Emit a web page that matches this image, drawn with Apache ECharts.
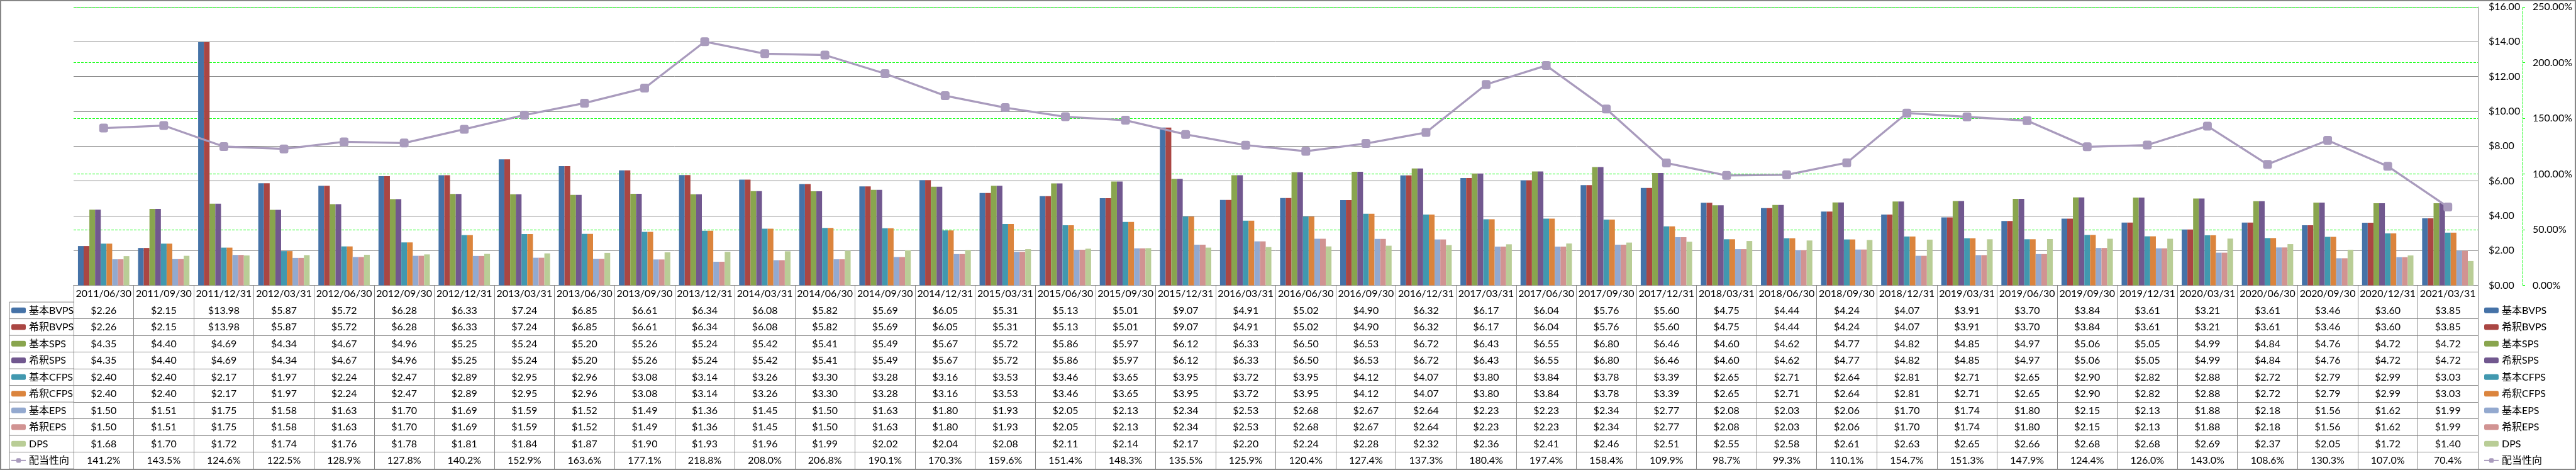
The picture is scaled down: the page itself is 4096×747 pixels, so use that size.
<!DOCTYPE html>
<html>
<head>
<meta charset="utf-8">
<script src="https://cdn.jsdelivr.net/npm/echarts@6/dist/echarts.min.js"></script>
<style>
html,body{margin:0;padding:0;background:#fff;}
#c{width:4096px;height:747px;}
</style>
</head>
<body>
<div id="c"></div>
<script>
// ---------- data ----------
const categories = ['2011/06/30','2011/09/30','2011/12/31','2012/03/31','2012/06/30','2012/09/30','2012/12/31','2013/03/31','2013/06/30','2013/09/30','2013/12/31','2014/03/31','2014/06/30','2014/09/30','2014/12/31','2015/03/31','2015/06/30','2015/09/30','2015/12/31','2016/03/31','2016/06/30','2016/09/30','2016/12/31','2017/03/31','2017/06/30','2017/09/30','2017/12/31','2018/03/31','2018/06/30','2018/09/30','2018/12/31','2019/03/31','2019/06/30','2019/09/30','2019/12/31','2020/03/31','2020/06/30','2020/09/30','2020/12/31','2021/03/31'];

const bvpsBasic   = [2.26,2.15,13.98,5.87,5.72,6.28,6.33,7.24,6.85,6.61,6.34,6.08,5.82,5.69,6.05,5.31,5.13,5.01,9.07,4.91,5.02,4.90,6.32,6.17,6.04,5.76,5.60,4.75,4.44,4.24,4.07,3.91,3.70,3.84,3.61,3.21,3.61,3.46,3.60,3.85];
const bvpsDiluted = [2.26,2.15,13.98,5.87,5.72,6.28,6.33,7.24,6.85,6.61,6.34,6.08,5.82,5.69,6.05,5.31,5.13,5.01,9.07,4.91,5.02,4.90,6.32,6.17,6.04,5.76,5.60,4.75,4.44,4.24,4.07,3.91,3.70,3.84,3.61,3.21,3.61,3.46,3.60,3.85];
const spsBasic    = [4.35,4.40,4.69,4.34,4.67,4.96,5.25,5.24,5.20,5.26,5.24,5.42,5.41,5.49,5.67,5.72,5.86,5.97,6.12,6.33,6.50,6.53,6.72,6.43,6.55,6.80,6.46,4.60,4.62,4.77,4.82,4.85,4.97,5.06,5.05,4.99,4.84,4.76,4.72,4.72];
const spsDiluted  = [4.35,4.40,4.69,4.34,4.67,4.96,5.25,5.24,5.20,5.26,5.24,5.42,5.41,5.49,5.67,5.72,5.86,5.97,6.12,6.33,6.50,6.53,6.72,6.43,6.55,6.80,6.46,4.60,4.62,4.77,4.82,4.85,4.97,5.06,5.05,4.99,4.84,4.76,4.72,4.72];
const cfpsBasic   = [2.40,2.40,2.17,1.97,2.24,2.47,2.89,2.95,2.96,3.08,3.14,3.26,3.30,3.28,3.16,3.53,3.46,3.65,3.95,3.72,3.95,4.12,4.07,3.80,3.84,3.78,3.39,2.65,2.71,2.64,2.81,2.71,2.65,2.90,2.82,2.88,2.72,2.79,2.99,3.03];
const cfpsDiluted = [2.40,2.40,2.17,1.97,2.24,2.47,2.89,2.95,2.96,3.08,3.14,3.26,3.30,3.28,3.16,3.53,3.46,3.65,3.95,3.72,3.95,4.12,4.07,3.80,3.84,3.78,3.39,2.65,2.71,2.64,2.81,2.71,2.65,2.90,2.82,2.88,2.72,2.79,2.99,3.03];
const epsBasic    = [1.50,1.51,1.75,1.58,1.63,1.70,1.69,1.59,1.52,1.49,1.36,1.45,1.50,1.63,1.80,1.93,2.05,2.13,2.34,2.53,2.68,2.67,2.64,2.23,2.23,2.34,2.77,2.08,2.03,2.06,1.70,1.74,1.80,2.15,2.13,1.88,2.18,1.56,1.62,1.99];
const epsDiluted  = [1.50,1.51,1.75,1.58,1.63,1.70,1.69,1.59,1.52,1.49,1.36,1.45,1.50,1.63,1.80,1.93,2.05,2.13,2.34,2.53,2.68,2.67,2.64,2.23,2.23,2.34,2.77,2.08,2.03,2.06,1.70,1.74,1.80,2.15,2.13,1.88,2.18,1.56,1.62,1.99];
const dps         = [1.68,1.70,1.72,1.74,1.76,1.78,1.81,1.84,1.87,1.90,1.93,1.96,1.99,2.02,2.04,2.08,2.11,2.14,2.17,2.20,2.24,2.28,2.32,2.36,2.41,2.46,2.51,2.55,2.58,2.61,2.63,2.65,2.66,2.68,2.68,2.69,2.37,2.05,1.72,1.40];
const payoutRatio = [141.2,143.5,124.6,122.5,128.9,127.8,140.2,152.9,163.6,177.1,218.8,208.0,206.8,190.1,170.3,159.6,151.4,148.3,135.5,125.9,120.4,127.4,137.3,180.4,197.4,158.4,109.9,98.7,99.3,110.1,154.7,151.3,147.9,124.4,126.0,143.0,108.6,130.3,107.0,70.4];

const barNames = ['基本BVPS','希釈BVPS','基本SPS','希釈SPS','基本CFPS','希釈CFPS','基本EPS','希釈EPS','DPS'];
const lineName = '配当性向';
const dollarTicks = {min:0, max:16, interval:2};
const pctTicks = {min:0, max:250, interval:50};

// ---------- styling / layout ----------
const barSeriesData = [bvpsBasic,bvpsDiluted,spsBasic,spsDiluted,cfpsBasic,cfpsDiluted,epsBasic,epsDiluted,dps];
const barColors = ['#4572A7','#AA4643','#89A54E','#71588F','#4198AF','#DB843D','#93A9CF','#D19392','#B9CD96'];
const lineColor = '#A99BBD';
const FONT = "Lato, 'Noto Sans CJK JP', sans-serif";
const FS = 16;
const GRAY = '#868686';
const GRID = {left:117, right:156, top:11, bottom:293.4};
const H = 747;
const ROW = 26.5;
const TABLE_TOP = H - GRID.bottom;
const NROWS = 11; // header + 10 data rows

const fmtDollar = v => '$' + v.toFixed(2);
const fmtPct1 = v => v.toFixed(1) + '%';

const tableRows = barSeriesData.map(arr => (i => fmtDollar(arr[i])))
  .concat([i => fmtPct1(payoutRatio[i])]);

const xAxes = [];
xAxes.push({
  type:'category', data:categories, gridIndex:0, position:'bottom', offset:0,
  axisLine:{show:true, lineStyle:{color:GRAY, width:1}},
  axisTick:{show:true, interval:0, length:ROW*NROWS, lineStyle:{color:GRAY, width:1}},
  axisLabel:{interval:0, margin:0, lineHeight:ROW, fontSize:FS, fontFamily:FONT, color:'#000'},
  splitLine:{show:false}
});
tableRows.forEach((fmt, k) => {
  xAxes.push({
    type:'category', data:categories, gridIndex:0, position:'bottom', offset:ROW*(k+1),
    axisLine:{show:true, lineStyle:{color:GRAY, width:1}},
    axisTick:{show:false},
    axisLabel:{interval:0, margin:0, lineHeight:ROW, fontSize:FS, fontFamily:FONT, color:'#000',
      formatter:(v, idx) => fmt(idx)},
    splitLine:{show:false}
  });
});
xAxes.push({
  type:'category', data:categories, gridIndex:0, position:'bottom', offset:ROW*NROWS,
  axisLine:{show:true, lineStyle:{color:GRAY, width:1}},
  axisTick:{show:false}, axisLabel:{show:false}, splitLine:{show:false}
});

const series = barSeriesData.map((arr, i) => ({
  name: barNames[i], type:'bar', xAxisIndex:0, yAxisIndex:0, data:arr,
  barGap:'0%', barCategoryGap:'14.5%',
  itemStyle:{color:barColors[i]}
}));
series.push({
  name: lineName, type:'line', xAxisIndex:0, yAxisIndex:1, data:payoutRatio,
  symbol:'roundRect', symbolSize:14, z:5,
  lineStyle:{color:lineColor, width:3.3},
  itemStyle:{color:lineColor}
});

const allNames = barNames.concat([lineName]);
const legendBase = {
  orient:'vertical', top:TABLE_TOP + ROW, itemWidth:23, itemHeight:9, itemGap:0, padding:0,
  selectedMode:false, data:allNames,
  textStyle:{fontSize:FS, fontFamily:FONT, color:'#000', lineHeight:ROW, height:ROW, verticalAlign:'middle'}
};

// left column borders of the table
const leftX = 15;
const graphics = [{
  type:'rect', shape:{x:1, y:1, width:4094, height:H-2},
  style:{fill:null, stroke:GRAY, lineWidth:2}, silent:true, z:100
}];
for (let j = 0; j <= NROWS - 1; j++) {
  const y = TABLE_TOP + ROW * (j + 1);
  graphics.push({type:'line', shape:{x1:leftX, y1:y, x2:GRID.left, y2:y},
    style:{stroke:GRAY, lineWidth:1}, silent:true});
}
graphics.push({type:'line', shape:{x1:leftX, y1:TABLE_TOP + ROW, x2:leftX, y2:TABLE_TOP + ROW*NROWS},
  style:{stroke:GRAY, lineWidth:1}, silent:true});

const option = {
  animation:false,
  backgroundColor:'#fff',
  textStyle:{fontFamily:FONT},
  grid:{left:GRID.left, right:GRID.right, top:GRID.top, bottom:GRID.bottom, containLabel:false},
  legend:[
    Object.assign({}, legendBase, {left:17}),
    Object.assign({}, legendBase, {left:3949})
  ],
  xAxis: xAxes,
  yAxis:[
    {type:'value', position:'right', min:dollarTicks.min, max:dollarTicks.max, interval:dollarTicks.interval,
      axisLine:{show:true, lineStyle:{color:GRAY, width:1}},
      axisTick:{show:false},
      splitLine:{show:true, lineStyle:{color:GRAY, width:1}},
      axisLabel:{formatter:v => fmtDollar(v), margin:17, fontSize:FS, fontFamily:FONT, color:'#000'}},
    {type:'value', position:'right', offset:71, min:pctTicks.min, max:pctTicks.max, interval:pctTicks.interval,
      axisLine:{show:true, lineStyle:{color:'#00FF00', width:1, type:'dashed'}},
      axisTick:{show:true, inside:false, length:6, lineStyle:{color:'#00FF00', width:1, type:'dashed'}},
      splitLine:{show:true, lineStyle:{color:'#00FF00', width:1, type:'dashed'}},
      axisLabel:{formatter:v => v.toFixed(2) + '%', margin:16, fontSize:FS, fontFamily:FONT, color:'#000'}}
  ],
  series: series,
  graphic: graphics
};

const chart = echarts.init(document.getElementById('c'), null, {renderer:'canvas'});
chart.setOption(option);
</script>
</body>
</html>
